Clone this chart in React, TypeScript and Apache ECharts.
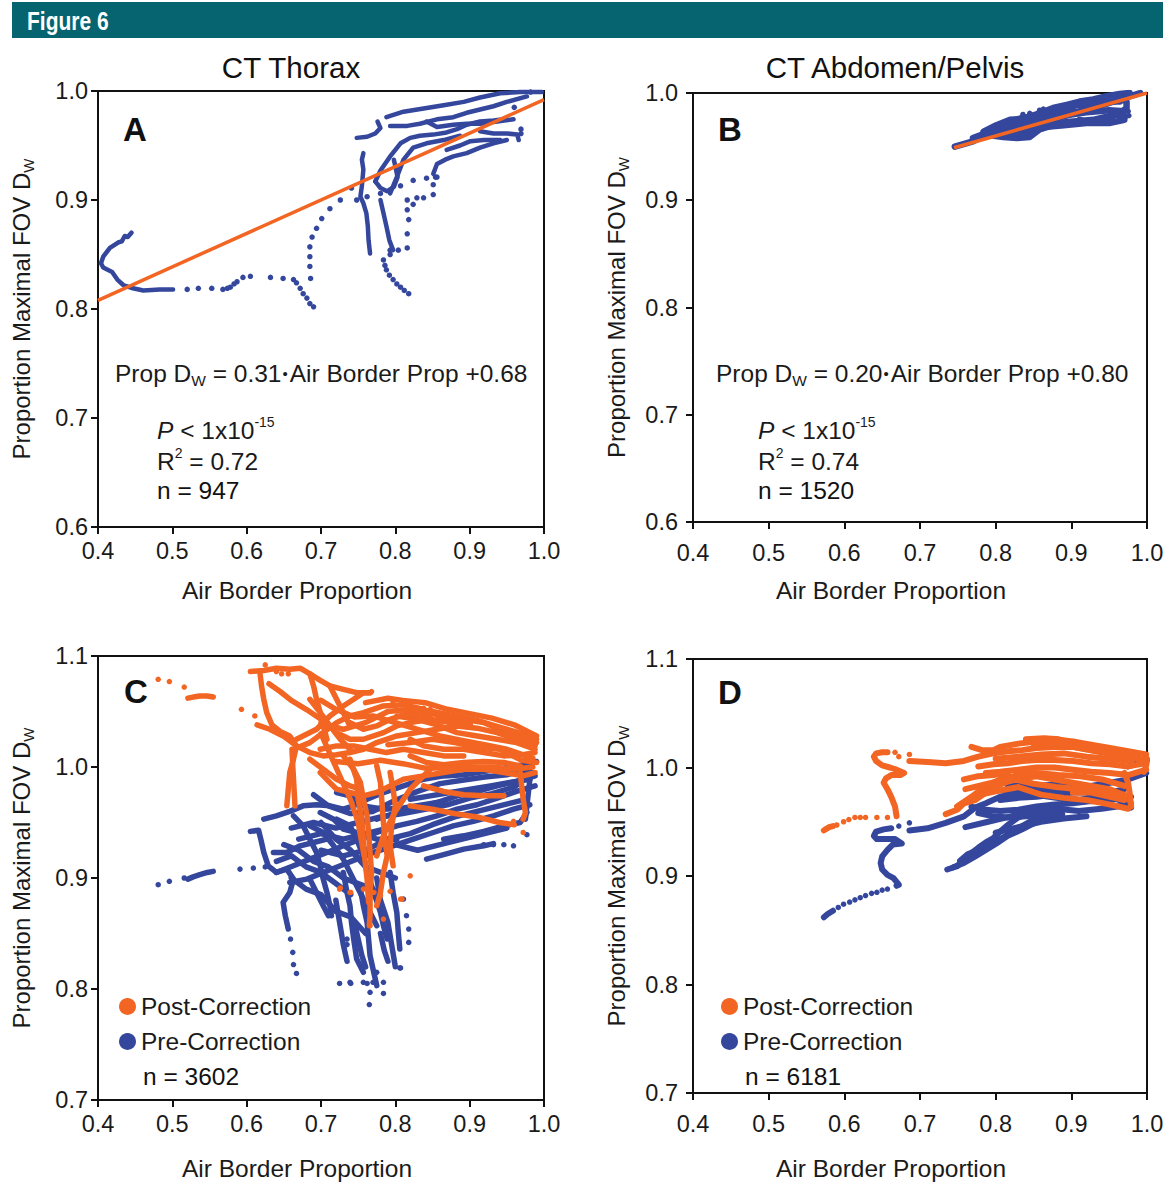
import React, { useEffect, useRef } from 'react';
import * as echarts from 'echarts';

type P = [number, number];

const BLUE = '#34479d';
const ORANGE = '#f26522';
const FONT = '"Liberation Sans", Arial, Helvetica, sans-serif';

const X_RANGE = [0.4, 1.0];
const Y_RANGE_TOP = [0.6, 1.0];
const Y_RANGE_BOTTOM = [0.7, 1.1];
const TICK_STEP = 0.1;

const PANEL_TITLES = ['CT Thorax', 'CT Abdomen/Pelvis'];
const PANEL_LETTERS = ['A', 'B', 'C', 'D'];
const LEGEND_NAMES = ['Post-Correction', 'Pre-Correction'];
const N_VALUES = ['947', '1520', '3602', '6181'];
const FIT_TEXT = [
  { slope: '0.31', intercept: '0.68', r2: '0.72' },
  { slope: '0.20', intercept: '0.80', r2: '0.74' },
];

// ---------- Panel A : CT Thorax ----------
const thoraxTraces: P[][] = [
  [[0.445, 0.870], [0.440, 0.866], [0.436, 0.867], [0.432, 0.862], [0.427, 0.861], [0.416, 0.856], [0.407, 0.848], [0.404, 0.842], [0.407, 0.838], [0.419, 0.834], [0.426, 0.827], [0.434, 0.822], [0.447, 0.819], [0.461, 0.817], [0.483, 0.818], [0.501, 0.818]],
  [[0.788, 0.976], [0.811, 0.981], [0.838, 0.984], [0.865, 0.987], [0.892, 0.990], [0.914, 0.994], [0.941, 0.998], [0.968, 0.999], [0.997, 0.999]],
  [[0.793, 0.968], [0.816, 0.968], [0.833, 0.970], [0.856, 0.974], [0.878, 0.976], [0.896, 0.980], [0.914, 0.983], [0.932, 0.986], [0.950, 0.990], [0.977, 0.995]],
  [[0.748, 0.957], [0.762, 0.958], [0.773, 0.961], [0.780, 0.966], [0.776, 0.972]],
  [[0.842, 0.972], [0.856, 0.967], [0.878, 0.969], [0.896, 0.970], [0.914, 0.970], [0.937, 0.972], [0.959, 0.974]],
  [[0.914, 0.963], [0.932, 0.961], [0.950, 0.961], [0.964, 0.960], [0.966, 0.955]],
  [[0.869, 0.946], [0.887, 0.950], [0.901, 0.954], [0.919, 0.955], [0.941, 0.955]],
  [[0.773, 0.917], [0.780, 0.927], [0.793, 0.940], [0.807, 0.952], [0.820, 0.957], [0.833, 0.959], [0.851, 0.960], [0.869, 0.962], [0.883, 0.965], [0.896, 0.969], [0.914, 0.972], [0.932, 0.973], [0.946, 0.974]],
  [[0.793, 0.906], [0.802, 0.921], [0.811, 0.937], [0.824, 0.948], [0.842, 0.952], [0.865, 0.955], [0.887, 0.959]],
  [[0.773, 0.917], [0.780, 0.911], [0.789, 0.908], [0.798, 0.912], [0.803, 0.921], [0.800, 0.931], [0.798, 0.937]],
  [[0.851, 0.924], [0.856, 0.933], [0.867, 0.937], [0.878, 0.940], [0.896, 0.943], [0.914, 0.948], [0.932, 0.952], [0.950, 0.955]],
  [[0.757, 0.943], [0.755, 0.937], [0.757, 0.928], [0.755, 0.913], [0.753, 0.903], [0.757, 0.897], [0.761, 0.888], [0.763, 0.876], [0.764, 0.863], [0.766, 0.851]],
  [[0.780, 0.900], [0.784, 0.888], [0.788, 0.876], [0.792, 0.863], [0.797, 0.854]],
];
const thoraxDots: P[] = [
  [0.520, 0.818], [0.535, 0.819], [0.553, 0.819], [0.568, 0.818], [0.574, 0.819], [0.578, 0.820], [0.583, 0.823], [0.587, 0.825], [0.595, 0.829], [0.605, 0.830],
  [0.632, 0.829], [0.649, 0.828], [0.663, 0.827], [0.667, 0.824], [0.672, 0.819], [0.676, 0.814], [0.681, 0.810], [0.685, 0.805], [0.690, 0.802],
  [0.793, 0.850], [0.784, 0.845], [0.786, 0.840], [0.788, 0.836], [0.792, 0.831], [0.797, 0.827], [0.802, 0.823], [0.807, 0.820], [0.812, 0.817], [0.818, 0.814],
  [0.793, 0.854], [0.804, 0.854], [0.816, 0.856],
  [0.816, 0.900], [0.816, 0.891], [0.818, 0.882], [0.816, 0.869],
  [0.824, 0.896], [0.829, 0.902], [0.838, 0.902],
  [0.851, 0.905], [0.851, 0.914], [0.854, 0.921],
  [0.748, 0.900], [0.762, 0.903], [0.780, 0.906], [0.793, 0.909], [0.807, 0.913], [0.824, 0.918], [0.842, 0.920], [0.856, 0.921],
  [0.741, 0.911], [0.726, 0.900], [0.712, 0.892], [0.701, 0.883], [0.694, 0.874], [0.688, 0.866], [0.685, 0.857], [0.685, 0.848], [0.685, 0.839], [0.686, 0.828],
  [0.969, 0.965], [0.969, 0.961], [0.982, 0.999], [0.960, 0.985],
];
const thoraxFit: P[] = [[0.4, 0.808], [1.0, 0.992]];

// ---------- Panel B : CT Abdomen/Pelvis ----------
const abdomenTraces: P[][] = [
  [[0.746, 0.950], [0.770, 0.955], [0.788, 0.961], [0.806, 0.964], [0.823, 0.967], [0.841, 0.969], [0.858, 0.972], [0.880, 0.976], [0.902, 0.981], [0.924, 0.986], [0.947, 0.990], [0.969, 0.995], [0.991, 1.000]],
  [[0.784, 0.964], [0.801, 0.970], [0.819, 0.975], [0.836, 0.976], [0.858, 0.981], [0.876, 0.986], [0.894, 0.989], [0.911, 0.992], [0.929, 0.994], [0.947, 0.997], [0.964, 0.999], [0.977, 1.000]],
  [[0.788, 0.961], [0.810, 0.959], [0.828, 0.958], [0.845, 0.959], [0.858, 0.966], [0.876, 0.970], [0.894, 0.973], [0.911, 0.974], [0.929, 0.975], [0.947, 0.978], [0.964, 0.981], [0.973, 0.986], [0.973, 0.992], [0.964, 0.995]],
  [[0.819, 0.973], [0.832, 0.976], [0.845, 0.978], [0.858, 0.980], [0.880, 0.983], [0.902, 0.984]],
  [[0.911, 0.975], [0.920, 0.973], [0.933, 0.974], [0.947, 0.976], [0.960, 0.980], [0.971, 0.978]],
  [[0.880, 0.986], [0.894, 0.987], [0.911, 0.989], [0.929, 0.990], [0.947, 0.992], [0.964, 0.992]],
  [[0.770, 0.958], [0.800, 0.966], [0.830, 0.972], [0.860, 0.976], [0.890, 0.979], [0.920, 0.982], [0.950, 0.984], [0.970, 0.983]],
  [[0.820, 0.962], [0.840, 0.964], [0.860, 0.968], [0.890, 0.970], [0.920, 0.972], [0.950, 0.972], [0.970, 0.975]],
];
const abdomenDots: P[] = [
  [0.836, 0.980], [0.845, 0.981], [0.858, 0.984], [0.863, 0.985], [0.975, 0.983], [0.976, 0.979],
];
const abdomenFit: P[] = [[0.745, 0.949], [1.0, 1.0]];

// ---------- Panel C : CT Thorax, pre/post correction ----------
const thoraxPostTraces: P[][] = [
  [[0.521, 1.062], [0.528, 1.063], [0.537, 1.064], [0.547, 1.064], [0.555, 1.063]],
  [[0.605, 1.086], [0.623, 1.087], [0.640, 1.089], [0.658, 1.088], [0.672, 1.089], [0.685, 1.084], [0.699, 1.078], [0.712, 1.073], [0.730, 1.070], [0.748, 1.067], [0.766, 1.067]],
  [[0.618, 1.084], [0.620, 1.073], [0.623, 1.061], [0.627, 1.049], [0.634, 1.038], [0.645, 1.032], [0.658, 1.028], [0.667, 1.019], [0.663, 1.007], [0.658, 0.995], [0.656, 0.980], [0.654, 0.965]],
  [[0.661, 1.016], [0.662, 1.001], [0.663, 0.989], [0.664, 0.977], [0.665, 0.965]],
  [[0.614, 1.038], [0.631, 1.034], [0.649, 1.028], [0.667, 1.019], [0.685, 1.013], [0.703, 1.010], [0.721, 1.011], [0.739, 1.013], [0.757, 1.016], [0.775, 1.022], [0.802, 1.028], [0.829, 1.031], [0.856, 1.034], [0.883, 1.037], [0.910, 1.035], [0.937, 1.031], [0.963, 1.025], [0.988, 1.019]],
  [[0.663, 1.016], [0.685, 1.022], [0.703, 1.031], [0.721, 1.040], [0.739, 1.046], [0.757, 1.049], [0.784, 1.055], [0.811, 1.056], [0.838, 1.052], [0.865, 1.044], [0.892, 1.043], [0.919, 1.040], [0.946, 1.032], [0.972, 1.026], [0.990, 1.022]],
  [[0.667, 1.025], [0.694, 1.034], [0.712, 1.046], [0.730, 1.055], [0.744, 1.061], [0.757, 1.067], [0.766, 1.067]],
  [[0.685, 1.084], [0.690, 1.073], [0.694, 1.061], [0.699, 1.049], [0.703, 1.037], [0.708, 1.025]],
  [[0.699, 0.995], [0.712, 0.986], [0.721, 0.980], [0.739, 0.977], [0.757, 0.974], [0.775, 0.977], [0.793, 0.983], [0.811, 0.989], [0.838, 0.992], [0.865, 0.995], [0.892, 0.998], [0.919, 0.998], [0.946, 0.995], [0.972, 0.992], [0.988, 0.995]],
  [[0.730, 1.010], [0.744, 0.998], [0.753, 0.986], [0.757, 0.971], [0.762, 0.956], [0.764, 0.941], [0.766, 0.923], [0.768, 0.905], [0.766, 0.887], [0.766, 0.866], [0.765, 0.857]],
  [[0.739, 1.007], [0.748, 0.989], [0.750, 0.971], [0.755, 0.953], [0.757, 0.935], [0.759, 0.917], [0.762, 0.899], [0.764, 0.878]],
  [[0.775, 1.001], [0.780, 0.986], [0.782, 0.968], [0.784, 0.950], [0.786, 0.935], [0.789, 0.920], [0.784, 0.905], [0.780, 0.887], [0.775, 0.875]],
  [[0.793, 0.995], [0.797, 0.980], [0.800, 0.965], [0.795, 0.947], [0.793, 0.929], [0.797, 0.911]],
  [[0.685, 1.007], [0.703, 0.998], [0.721, 0.989], [0.739, 0.983], [0.753, 0.980]],
  [[0.820, 1.025], [0.838, 1.019], [0.865, 1.016], [0.892, 1.016], [0.919, 1.013], [0.946, 1.010], [0.972, 1.011], [0.988, 1.013]],
  [[0.721, 1.031], [0.739, 1.025], [0.757, 1.025], [0.784, 1.031], [0.802, 1.037], [0.820, 1.040], [0.847, 1.043], [0.874, 1.040], [0.901, 1.038]],
  [[0.838, 0.983], [0.865, 0.978], [0.892, 0.975], [0.919, 0.974], [0.946, 0.974]],
  [[0.968, 0.995], [0.970, 0.983], [0.972, 0.971], [0.975, 0.959], [0.972, 0.953]],
  [[0.820, 1.010], [0.842, 1.004], [0.865, 1.002], [0.892, 1.004], [0.919, 1.005], [0.946, 1.004], [0.968, 1.001]],
  [[0.802, 1.046], [0.829, 1.043], [0.856, 1.038], [0.883, 1.031], [0.910, 1.028], [0.937, 1.025], [0.963, 1.022], [0.988, 1.016]],
  [[0.739, 1.040], [0.757, 1.034], [0.775, 1.037], [0.793, 1.043], [0.811, 1.047], [0.829, 1.047], [0.847, 1.046]],
  [[0.699, 1.016], [0.721, 1.019], [0.744, 1.019], [0.766, 1.016], [0.788, 1.013], [0.811, 1.016], [0.838, 1.013], [0.865, 1.010], [0.892, 1.010]],
  [[0.685, 1.061], [0.699, 1.049], [0.712, 1.037], [0.726, 1.025], [0.739, 1.016]],
  [[0.712, 1.073], [0.721, 1.061], [0.730, 1.049], [0.739, 1.037]],
  [[0.700, 1.040], [0.730, 1.034], [0.760, 1.040], [0.790, 1.050], [0.820, 1.052], [0.850, 1.050], [0.880, 1.046], [0.910, 1.042], [0.940, 1.036], [0.970, 1.030], [0.990, 1.025]],
  [[0.720, 1.005], [0.750, 1.003], [0.780, 1.006], [0.810, 1.003], [0.840, 0.999], [0.870, 0.999], [0.900, 1.000], [0.930, 1.000], [0.960, 0.998], [0.985, 1.000]],
  [[0.760, 1.058], [0.790, 1.062], [0.810, 1.060], [0.840, 1.058], [0.870, 1.052], [0.900, 1.048], [0.930, 1.044], [0.960, 1.038], [0.990, 1.028]],
  [[0.700, 1.060], [0.720, 1.052], [0.745, 1.045], [0.770, 1.046], [0.800, 1.040], [0.830, 1.034], [0.860, 1.028], [0.890, 1.024], [0.920, 1.020], [0.950, 1.016], [0.985, 1.008]],
  [[0.790, 1.020], [0.820, 1.022], [0.850, 1.025], [0.880, 1.022], [0.910, 1.018], [0.940, 1.016], [0.970, 1.006], [0.990, 1.004]],
  [[0.850, 1.000], [0.820, 0.980], [0.800, 0.960], [0.785, 0.940], [0.775, 0.920]],
  [[0.700, 1.030], [0.720, 1.000], [0.740, 0.970], [0.750, 0.950], [0.758, 0.920]],
  [[0.630, 1.075], [0.645, 1.068], [0.660, 1.060], [0.680, 1.052], [0.700, 1.043]],
  [[0.820, 0.965], [0.850, 0.962], [0.880, 0.958], [0.910, 0.955], [0.940, 0.950], [0.960, 0.948]],
];
const thoraxPostDots: P[] = [
  [0.481, 1.079], [0.496, 1.077], [0.516, 1.072],
  [0.593, 1.052], [0.611, 1.046], [0.768, 1.068], [0.797, 1.059], [0.838, 1.053], [0.847, 1.052],
  [0.959, 0.951], [0.972, 0.941], [0.809, 0.881], [0.820, 0.902], [0.739, 0.887], [0.726, 0.891],
  [0.625, 1.092], [0.640, 1.086], [0.647, 1.084], [0.656, 1.084],
  [0.725, 0.890], [0.740, 0.887], [0.766, 0.857], [0.807, 0.881], [0.784, 0.863], [0.757, 0.890], [0.771, 0.887], [0.780, 0.884], [0.793, 0.888],
];
const thoraxPreTraces: P[][] = [
  [[0.521, 0.899], [0.528, 0.901], [0.537, 0.903], [0.547, 0.905], [0.555, 0.906]],
  [[0.605, 0.942], [0.616, 0.943], [0.619, 0.935], [0.623, 0.923], [0.629, 0.911], [0.640, 0.905], [0.654, 0.908], [0.663, 0.899], [0.658, 0.887], [0.649, 0.878], [0.652, 0.866], [0.656, 0.854]],
  [[0.623, 0.953], [0.640, 0.956], [0.658, 0.960], [0.676, 0.965], [0.694, 0.966], [0.712, 0.965], [0.730, 0.962], [0.744, 0.965], [0.762, 0.971], [0.784, 0.977], [0.811, 0.983], [0.838, 0.989], [0.865, 0.992], [0.892, 0.993], [0.919, 0.996], [0.946, 0.999], [0.972, 1.002], [0.990, 1.005]],
  [[0.640, 0.905], [0.663, 0.911], [0.685, 0.917], [0.708, 0.923], [0.730, 0.929], [0.753, 0.935], [0.775, 0.941], [0.802, 0.947], [0.829, 0.951], [0.856, 0.956], [0.883, 0.962], [0.910, 0.966], [0.937, 0.972], [0.963, 0.978], [0.988, 0.983]],
  [[0.658, 0.896], [0.681, 0.899], [0.703, 0.905], [0.726, 0.911], [0.748, 0.917], [0.771, 0.923], [0.797, 0.929], [0.824, 0.935], [0.851, 0.941], [0.878, 0.947], [0.905, 0.951], [0.932, 0.956], [0.959, 0.962], [0.981, 0.966]],
  [[0.685, 0.947], [0.703, 0.941], [0.717, 0.929], [0.730, 0.917], [0.739, 0.905], [0.748, 0.893], [0.757, 0.881], [0.766, 0.869], [0.775, 0.857]],
  [[0.663, 0.956], [0.676, 0.947], [0.685, 0.935], [0.694, 0.923], [0.699, 0.911], [0.703, 0.899], [0.708, 0.887], [0.712, 0.875], [0.714, 0.866]],
  [[0.721, 0.953], [0.739, 0.947], [0.748, 0.935], [0.757, 0.920], [0.762, 0.905], [0.771, 0.887], [0.780, 0.869], [0.784, 0.857], [0.789, 0.845]],
  [[0.730, 0.905], [0.735, 0.887], [0.739, 0.875], [0.741, 0.860], [0.744, 0.845], [0.748, 0.827], [0.757, 0.815]],
  [[0.753, 0.890], [0.757, 0.875], [0.762, 0.860], [0.764, 0.845], [0.766, 0.830], [0.771, 0.815], [0.775, 0.803]],
  [[0.793, 0.905], [0.797, 0.887], [0.802, 0.869], [0.804, 0.851], [0.806, 0.836]],
  [[0.842, 0.917], [0.865, 0.921], [0.892, 0.926], [0.919, 0.929], [0.932, 0.931]],
  [[0.865, 0.935], [0.892, 0.938], [0.919, 0.942], [0.946, 0.947], [0.968, 0.950], [0.977, 0.959]],
  [[0.979, 1.001], [0.981, 0.989], [0.979, 0.977], [0.977, 0.965], [0.975, 0.953]],
  [[0.820, 0.971], [0.847, 0.974], [0.874, 0.977], [0.901, 0.980], [0.928, 0.983], [0.954, 0.986], [0.981, 0.989]],
  [[0.721, 0.977], [0.739, 0.974], [0.757, 0.965], [0.784, 0.962], [0.811, 0.963], [0.838, 0.966], [0.865, 0.969]],
  [[0.636, 0.923], [0.654, 0.923], [0.672, 0.929], [0.690, 0.932], [0.708, 0.935]],
  [[0.685, 0.899], [0.694, 0.887], [0.703, 0.875], [0.710, 0.866]],
  [[0.775, 0.953], [0.802, 0.959], [0.829, 0.963], [0.856, 0.968], [0.883, 0.974], [0.910, 0.978], [0.937, 0.983], [0.963, 0.987], [0.988, 0.992]],
  [[0.699, 0.959], [0.717, 0.953], [0.730, 0.944], [0.748, 0.941], [0.775, 0.935], [0.802, 0.935]],
  [[0.660, 0.945], [0.690, 0.950], [0.720, 0.945], [0.750, 0.950], [0.780, 0.955], [0.810, 0.958], [0.840, 0.962], [0.870, 0.966], [0.900, 0.972], [0.930, 0.976], [0.960, 0.982], [0.985, 0.995]],
  [[0.700, 0.925], [0.730, 0.920], [0.760, 0.925], [0.790, 0.935], [0.820, 0.940], [0.850, 0.948], [0.880, 0.955], [0.910, 0.960], [0.940, 0.965], [0.970, 0.970]],
  [[0.690, 0.975], [0.710, 0.965], [0.740, 0.958], [0.770, 0.960], [0.800, 0.970], [0.830, 0.978], [0.860, 0.985], [0.890, 0.988], [0.920, 0.991], [0.950, 0.993], [0.980, 0.998]],
  [[0.670, 0.935], [0.700, 0.940], [0.730, 0.935], [0.760, 0.940], [0.790, 0.945]],
  [[0.640, 0.915], [0.660, 0.920], [0.680, 0.910], [0.700, 0.905], [0.720, 0.895], [0.740, 0.885]],
  [[0.800, 0.930], [0.830, 0.925], [0.860, 0.930], [0.890, 0.935], [0.920, 0.940], [0.950, 0.945]],
  [[0.775, 0.900], [0.780, 0.880], [0.790, 0.860], [0.795, 0.840], [0.800, 0.820]],
  [[0.720, 0.880], [0.725, 0.860], [0.730, 0.840], [0.735, 0.825]],
  [[0.650, 0.930], [0.670, 0.925], [0.690, 0.915], [0.710, 0.910], [0.730, 0.900], [0.750, 0.895], [0.770, 0.890]],
  [[0.660, 0.900], [0.680, 0.890], [0.700, 0.885], [0.720, 0.870], [0.740, 0.865], [0.760, 0.850]],
  [[0.700, 0.950], [0.720, 0.935], [0.740, 0.925], [0.760, 0.910], [0.780, 0.905], [0.800, 0.900]],
  [[0.745, 0.860], [0.750, 0.845], [0.755, 0.830], [0.760, 0.820]],
  [[0.780, 0.850], [0.785, 0.835], [0.790, 0.825]],
];
const thoraxPreDots: P[] = [
  [0.481, 0.894], [0.496, 0.897], [0.516, 0.900], [0.591, 0.908], [0.609, 0.909], [0.625, 0.910],
  [0.659, 0.845], [0.662, 0.833], [0.663, 0.822], [0.667, 0.814],
  [0.811, 0.881], [0.815, 0.866], [0.818, 0.854], [0.818, 0.842],
  [0.919, 0.930], [0.932, 0.930], [0.946, 0.930], [0.959, 0.929], [0.977, 0.939],
  [0.735, 0.845], [0.735, 0.840], [0.784, 0.806], [0.739, 0.806], [0.757, 0.806], [0.806, 0.819], [0.775, 0.815],
  [0.725, 0.805], [0.740, 0.805], [0.762, 0.805], [0.770, 0.806], [0.766, 0.797], [0.784, 0.796], [0.765, 0.786], [0.807, 0.819],
];

// ---------- Panel D : CT Abdomen/Pelvis, pre/post correction ----------
const abdPostTraces: P[][] = [
  [[0.573, 0.942], [0.575, 0.943], [0.580, 0.945], [0.585, 0.946]],
  [[0.669, 0.955], [0.667, 0.964], [0.662, 0.973], [0.657, 0.980], [0.652, 0.986], [0.655, 0.990], [0.662, 0.993], [0.674, 0.993], [0.679, 0.995], [0.669, 0.998], [0.660, 1.000], [0.650, 1.002], [0.642, 1.006], [0.639, 1.010], [0.642, 1.013], [0.650, 1.014], [0.657, 1.014]],
  [[0.686, 1.006], [0.710, 1.005], [0.734, 1.004], [0.758, 1.006], [0.777, 1.010], [0.797, 1.013], [0.816, 1.015], [0.835, 1.016], [0.854, 1.018], [0.878, 1.019], [0.902, 1.019], [0.926, 1.016], [0.951, 1.013], [0.975, 1.010], [0.999, 1.006]],
  [[0.734, 0.957], [0.749, 0.961], [0.758, 0.967], [0.773, 0.970], [0.787, 0.977], [0.801, 0.983], [0.816, 0.987], [0.835, 0.990], [0.854, 0.992], [0.878, 0.989], [0.902, 0.986], [0.926, 0.983], [0.951, 0.980], [0.975, 0.973], [0.979, 0.967]],
  [[0.768, 1.019], [0.782, 1.016], [0.797, 1.016], [0.806, 1.019], [0.830, 1.022], [0.854, 1.024], [0.878, 1.026], [0.902, 1.024], [0.926, 1.021], [0.951, 1.018], [0.975, 1.015], [0.999, 1.012]],
  [[0.777, 1.001], [0.797, 1.003], [0.816, 1.004], [0.835, 1.006], [0.854, 1.007], [0.878, 1.007], [0.902, 1.006], [0.926, 1.004], [0.951, 1.003], [0.975, 1.001], [0.999, 1.004]],
  [[0.787, 0.995], [0.806, 0.996], [0.830, 0.998], [0.854, 1.000], [0.878, 1.000], [0.902, 0.998], [0.926, 0.996], [0.951, 0.995], [0.975, 0.993], [0.999, 0.998]],
  [[0.840, 1.026], [0.864, 1.027], [0.883, 1.026], [0.902, 1.022], [0.926, 1.019], [0.960, 1.015]],
  [[0.970, 0.995], [0.975, 0.986], [0.977, 0.977], [0.979, 0.964]],
  [[0.902, 0.977], [0.926, 0.977], [0.951, 0.973], [0.970, 0.970]],
  [[0.758, 0.989], [0.777, 0.992], [0.797, 0.993], [0.816, 0.995]],
  [[0.749, 0.964], [0.768, 0.973], [0.787, 0.983], [0.806, 0.989], [0.830, 0.993], [0.854, 0.995], [0.883, 0.993], [0.912, 0.992], [0.941, 0.989], [0.970, 0.983]],
  [[0.996, 0.996], [0.999, 1.002], [1.0, 1.008]],
  [[0.760, 0.980], [0.790, 0.985], [0.820, 0.990], [0.850, 0.985], [0.880, 0.982], [0.910, 0.980], [0.940, 0.978], [0.970, 0.975]],
  [[0.800, 1.008], [0.830, 1.010], [0.860, 1.012], [0.890, 1.013], [0.920, 1.010], [0.950, 1.008], [0.980, 1.006]],
  [[0.780, 0.975], [0.800, 0.978], [0.830, 0.982], [0.860, 0.975], [0.890, 0.972], [0.920, 0.970], [0.950, 0.966], [0.975, 0.962]],
  [[0.850, 1.022], [0.880, 1.022], [0.910, 1.018], [0.940, 1.014], [0.970, 1.011], [0.995, 1.007]],
];
const abdPostDots: P[] = [
  [0.590, 0.947], [0.599, 0.950], [0.606, 0.952], [0.614, 0.954], [0.621, 0.954], [0.628, 0.954], [0.643, 0.954], [0.657, 0.954],
  [0.667, 1.014], [0.686, 1.012], [0.672, 1.010],
];
const abdPreTraces: P[][] = [
  [[0.573, 0.862], [0.578, 0.865], [0.585, 0.868]],
  [[0.669, 0.891], [0.672, 0.892], [0.665, 0.898], [0.657, 0.901], [0.650, 0.906], [0.648, 0.912], [0.650, 0.918], [0.657, 0.924], [0.664, 0.929], [0.676, 0.930], [0.667, 0.934], [0.655, 0.934], [0.643, 0.934], [0.639, 0.937], [0.642, 0.941], [0.652, 0.943], [0.662, 0.944]],
  [[0.686, 0.942], [0.710, 0.944], [0.734, 0.949], [0.758, 0.955], [0.773, 0.963], [0.787, 0.967], [0.806, 0.973], [0.830, 0.977], [0.854, 0.978], [0.878, 0.980], [0.902, 0.981], [0.926, 0.983], [0.951, 0.986], [0.975, 0.989], [0.999, 0.995]],
  [[0.736, 0.906], [0.749, 0.909], [0.758, 0.915], [0.768, 0.921], [0.777, 0.926], [0.787, 0.931], [0.797, 0.935], [0.806, 0.941], [0.816, 0.947], [0.830, 0.954], [0.845, 0.958], [0.864, 0.963], [0.883, 0.964]],
  [[0.753, 0.914], [0.763, 0.920], [0.777, 0.924], [0.792, 0.929], [0.806, 0.934], [0.821, 0.940], [0.835, 0.946], [0.850, 0.952], [0.864, 0.958], [0.883, 0.961]],
  [[0.768, 0.964], [0.787, 0.961], [0.806, 0.960], [0.830, 0.961], [0.854, 0.964], [0.878, 0.966], [0.902, 0.967], [0.926, 0.969], [0.951, 0.970], [0.979, 0.973]],
  [[0.777, 0.958], [0.797, 0.955], [0.816, 0.954], [0.840, 0.955], [0.864, 0.957], [0.888, 0.957]],
  [[0.806, 0.970], [0.830, 0.972], [0.854, 0.973], [0.878, 0.975], [0.902, 0.977], [0.926, 0.977], [0.951, 0.973], [0.975, 0.967], [0.979, 0.963]],
  [[0.816, 0.983], [0.835, 0.983], [0.854, 0.983], [0.874, 0.984], [0.893, 0.986]],
  [[0.975, 1.001], [0.989, 1.004], [1.0, 1.007]],
  [[0.744, 0.908], [0.758, 0.912], [0.773, 0.918], [0.787, 0.924], [0.801, 0.930], [0.816, 0.937], [0.835, 0.943], [0.854, 0.950], [0.874, 0.955]],
  [[0.760, 0.945], [0.790, 0.950], [0.820, 0.955], [0.850, 0.960], [0.880, 0.962], [0.910, 0.960], [0.940, 0.962], [0.970, 0.965]],
  [[0.800, 0.940], [0.830, 0.945], [0.860, 0.950], [0.890, 0.953], [0.920, 0.955]],
  [[0.790, 0.980], [0.820, 0.978], [0.850, 0.975], [0.880, 0.972], [0.910, 0.970], [0.940, 0.975], [0.970, 0.980]],
];
const abdPreDots: P[] = [
  [0.592, 0.871], [0.599, 0.874], [0.607, 0.876], [0.614, 0.878], [0.621, 0.880], [0.628, 0.882], [0.636, 0.884], [0.643, 0.885], [0.650, 0.887], [0.657, 0.888],
  [0.672, 0.946], [0.686, 0.949],
];

const TEXT_COLOR = '#1a1a1a';
const labelText = { fontFamily: FONT, color: TEXT_COLOR };

function traceSeries(traces: P[][], gi: number, color: string, width: number, name?: string) {
  return traces.map((d) => ({
    type: 'line',
    name,
    data: d,
    xAxisIndex: gi,
    yAxisIndex: gi,
    showSymbol: false,
    symbol: 'circle',
    lineStyle: { color, width, cap: 'round', join: 'round' },
    itemStyle: { color },
    silent: true,
    z: 2,
  }));
}

function dotSeries(dots: P[], gi: number, color: string, name?: string) {
  return {
    type: 'scatter',
    name,
    data: dots,
    xAxisIndex: gi,
    yAxisIndex: gi,
    symbolSize: 5.5,
    itemStyle: { color, opacity: 1 },
    silent: true,
    z: 2,
  };
}

function fitSeries(d: P[], gi: number) {
  return {
    type: 'line',
    data: d,
    xAxisIndex: gi,
    yAxisIndex: gi,
    showSymbol: false,
    lineStyle: { color: ORANGE, width: 3.5 },
    silent: true,
    z: 4,
  };
}

const axisLineStyle = { show: true, onZero: false, lineStyle: { color: '#111', width: 2 } };
const axisTickStyle = { show: true, inside: false, length: 7, lineStyle: { color: '#111', width: 2 } };

function xAxis(gi: number, labelMargin: number, nameGap: number, shiftLeft: number) {
  return {
    type: 'value',
    gridIndex: gi,
    min: X_RANGE[0],
    max: X_RANGE[1],
    interval: TICK_STEP,
    name: 'Air Border Proportion',
    nameLocation: 'middle',
    nameGap,
    nameTextStyle: { ...labelText, fontSize: 24.5, padding: [0, shiftLeft * 2, 0, 0] },
    axisLine: axisLineStyle,
    axisTick: axisTickStyle,
    axisLabel: { ...labelText, fontSize: 23.5, margin: labelMargin, formatter: (v: number) => v.toFixed(1) },
    splitLine: { show: false },
  };
}

function yAxis(gi: number, range: number[], labelMargin: number) {
  return {
    type: 'value',
    gridIndex: gi,
    min: range[0],
    max: range[1],
    interval: TICK_STEP,
    name: 'Proportion Maximal FOV D{sub|W}',
    nameLocation: 'middle',
    nameGap: 62,
    nameTextStyle: {
      ...labelText,
      fontSize: 24,
      lineHeight: 30,
      rich: { sub: { fontFamily: FONT, color: TEXT_COLOR, fontSize: 15, lineHeight: 20, verticalAlign: 'bottom' } },
    },
    axisLine: axisLineStyle,
    axisTick: axisTickStyle,
    axisLabel: { ...labelText, fontSize: 23.5, margin: labelMargin, formatter: (v: number) => v.toFixed(1) },
    splitLine: { show: false },
  };
}

const richBase = {
  t: { fontFamily: FONT, fontSize: 24.5, lineHeight: 30, fill: TEXT_COLOR },
  i: { fontFamily: FONT, fontSize: 24.5, lineHeight: 30, fill: TEXT_COLOR, fontStyle: 'italic' },
  sub: { fontFamily: FONT, fontSize: 15.5, lineHeight: 20, fill: TEXT_COLOR, verticalAlign: 'bottom' },
  sup: { fontFamily: FONT, fontSize: 14, lineHeight: 14, fill: TEXT_COLOR, verticalAlign: 'top' },
  dot: { fontFamily: FONT, fontSize: 15, lineHeight: 30, fill: TEXT_COLOR, padding: [0, 2, 0, 1] },
};

function richText(x: number, y: number, text: string) {
  return {
    type: 'text',
    x,
    y,
    silent: true,
    style: { text, rich: richBase, fontFamily: FONT, fontSize: 24.5, fill: TEXT_COLOR, align: 'left', verticalAlign: 'middle' },
  };
}

function plainText(x: number, y: number, text: string, size: number, weight = 'normal', align = 'left') {
  return {
    type: 'text',
    x,
    y,
    silent: true,
    style: { text, fontFamily: FONT, fontSize: size, fontWeight: weight, fill: '#111', align, verticalAlign: 'middle' },
  };
}

function statsBlock(x0: number, x1: number, idx: number) {
  const f = FIT_TEXT[idx];
  return [
    richText(x0, 373, `{t|Prop D}{sub|W}{t| = ${f.slope}}{dot|•}{t|Air Border Prop +${f.intercept}}`),
    richText(x1, 430, '{i|P}{t| < 1x10}{sup|-15}'),
    richText(x1, 461, `{t|R}{sup|2}{t| = ${f.r2}}`),
    plainText(x1, 490, `n = ${N_VALUES[idx]}`, 24.5),
  ];
}

export default function App() {
  const ref = useRef<HTMLDivElement>(null);

  useEffect(() => {
    if (!ref.current) return;
    const chart = echarts.init(ref.current, undefined, { renderer: 'svg' });

    const series: any[] = [
      ...traceSeries(thoraxTraces, 0, BLUE, 4.5),
      dotSeries(thoraxDots, 0, BLUE),
      fitSeries(thoraxFit, 0),
      ...traceSeries(abdomenTraces, 1, BLUE, 6.5),
      dotSeries(abdomenDots, 1, BLUE),
      fitSeries(abdomenFit, 1),
      ...traceSeries(thoraxPreTraces, 2, BLUE, 5.5, LEGEND_NAMES[1]),
      dotSeries(thoraxPreDots, 2, BLUE, LEGEND_NAMES[1]),
      ...traceSeries(thoraxPostTraces, 2, ORANGE, 5.5, LEGEND_NAMES[0]),
      dotSeries(thoraxPostDots, 2, ORANGE, LEGEND_NAMES[0]),
      ...traceSeries(abdPreTraces, 3, BLUE, 6, LEGEND_NAMES[1]),
      dotSeries(abdPreDots, 3, BLUE, LEGEND_NAMES[1]),
      ...traceSeries(abdPostTraces, 3, ORANGE, 6, LEGEND_NAMES[0]),
      dotSeries(abdPostDots, 3, ORANGE, LEGEND_NAMES[0]),
    ];

    const legendCommon = {
      orient: 'vertical',
      icon: 'circle',
      itemWidth: 17,
      itemHeight: 17,
      itemGap: 10,
      padding: 0,
      selectedMode: false,
      textStyle: { fontFamily: FONT, fontSize: 24.5, color: TEXT_COLOR },
      data: LEGEND_NAMES,
    };

    chart.setOption({
      animation: false,
      backgroundColor: '#ffffff',
      grid: [
        { left: 98, top: 91, width: 446, height: 436 },
        { left: 693, top: 93, width: 454, height: 429 },
        { left: 98, top: 656, width: 446, height: 445 },
        { left: 693, top: 659, width: 454, height: 435 },
      ].map((g) => ({ ...g, show: true, borderColor: '#111', borderWidth: 2, backgroundColor: 'transparent', containLabel: false })),
      xAxis: [xAxis(0, 12, 51, 24), xAxis(1, 19, 56, 29), xAxis(2, 12, 56, 24), xAxis(3, 19, 63, 29)],
      yAxis: [yAxis(0, Y_RANGE_TOP, 10), yAxis(1, Y_RANGE_TOP, 15), yAxis(2, Y_RANGE_BOTTOM, 10), yAxis(3, Y_RANGE_BOTTOM, 15)],
      legend: [
        { ...legendCommon, left: 119, top: 994 },
        { ...legendCommon, left: 721, top: 994 },
      ],
      series,
      graphic: [
        { type: 'rect', silent: true, shape: { x: 12, y: 2, width: 1151, height: 36 }, style: { fill: '#05646f' } },
        {
          type: 'text',
          x: 27,
          y: 21,
          scaleX: 0.84,
          silent: true,
          style: { text: 'Figure 6', fontFamily: FONT, fontSize: 25, fontWeight: 'bold', fill: '#ffffff', align: 'left', verticalAlign: 'middle' },
        },
        plainText(291, 67, PANEL_TITLES[0], 29.5, 'normal', 'center'),
        plainText(895, 67, PANEL_TITLES[1], 29.5, 'normal', 'center'),
        plainText(123, 129, PANEL_LETTERS[0], 33, 'bold'),
        plainText(718, 129, PANEL_LETTERS[1], 33, 'bold'),
        plainText(124, 691, PANEL_LETTERS[2], 33, 'bold'),
        plainText(718, 692, PANEL_LETTERS[3], 33, 'bold'),
        ...statsBlock(115, 157, 0),
        ...statsBlock(716, 758, 1),
        plainText(143, 1076, `n = ${N_VALUES[2]}`, 24.5),
        plainText(745, 1076, `n = ${N_VALUES[3]}`, 24.5),
      ],
    });

    return () => chart.dispose();
  }, []);

  return <div ref={ref} style={{ position: 'absolute', left: 0, top: 0, width: 1167, height: 1182 }} />;
}
